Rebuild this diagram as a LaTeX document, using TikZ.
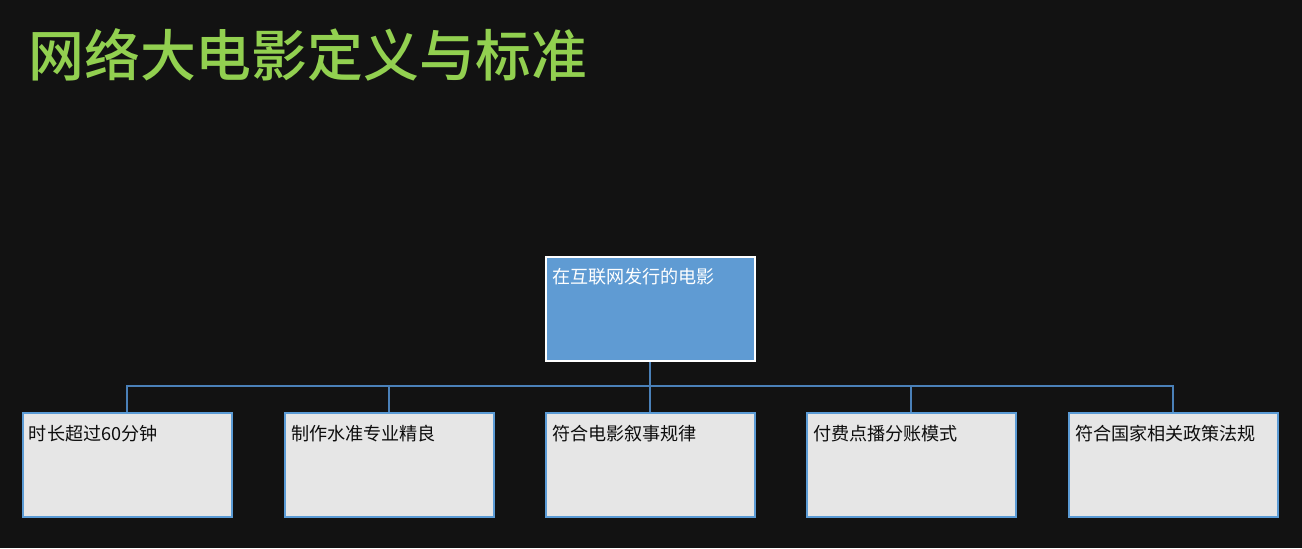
\documentclass[tikz,border=0pt]{standalone}
\usepackage{fontspec}
\setmainfont{Noto Sans CJK SC}
\newfontfamily\titlefont{Noto Sans CJK SC Medium}
\definecolor{bgdark}{HTML}{121212}
\definecolor{titlegreen}{HTML}{92D050}
\definecolor{topblue}{HTML}{5F9BD3}
\definecolor{boxgrey}{HTML}{E6E6E6}
\definecolor{edgeblue}{HTML}{5B9BD5}
\definecolor{linkblue}{HTML}{4A80B8}
\tikzset{
  topbox/.style={draw=white, line width=0.04cm, fill=topblue, text=white,
    anchor=north west, align=left, text width=3.94cm, inner xsep=0.12cm, inner ysep=0.2cm,
    text height=0.34cm, text depth=1.34cm, font=\fontsize{10.3}{12}\selectfont},
  childbox/.style={topbox, draw=edgeblue, fill=boxgrey, text=black!95},
  link/.style={linkblue, line width=0.04cm}
}
\begin{document}
\begin{tikzpicture}[x=0.02cm, y=-0.02cm]
                % background
                \fill[bgdark] (0,0) rectangle (1302,548);
                \useasboundingbox (0,0) rectangle (1302,548);
                % title
                \node[anchor=west, inner sep=0, text=titlegreen, font=\titlefont\fontsize{31.8}{36}\selectfont] (title) at (28,55) {网络大电影定义与标准};
                % root
                \node[topbox] (root) at (545,256) {在互联网发行的电影};
                % children
                \node[childbox] (len) at (22,412) {时长超过60分钟};
                \node[childbox] (make) at (284,412) {制作水准专业精良};
                \node[childbox] (story) at (545,412) {符合电影叙事规律};
                \node[childbox] (pay) at (806,412) {付费点播分账模式};
                \node[childbox] (law) at (1068,412) {符合国家相关政策法规};
                % connectors
                \coordinate (bus) at (root.south |- 0,386);
                \draw[link] (root.south) -- (story.north);
                \draw[link] (len.north) |- (bus);
                \draw[link] (make.north) |- (bus);
                \draw[link] (pay.north) |- (bus);
                \draw[link] (law.north) |- (bus);
            \end{tikzpicture}
\end{document}
